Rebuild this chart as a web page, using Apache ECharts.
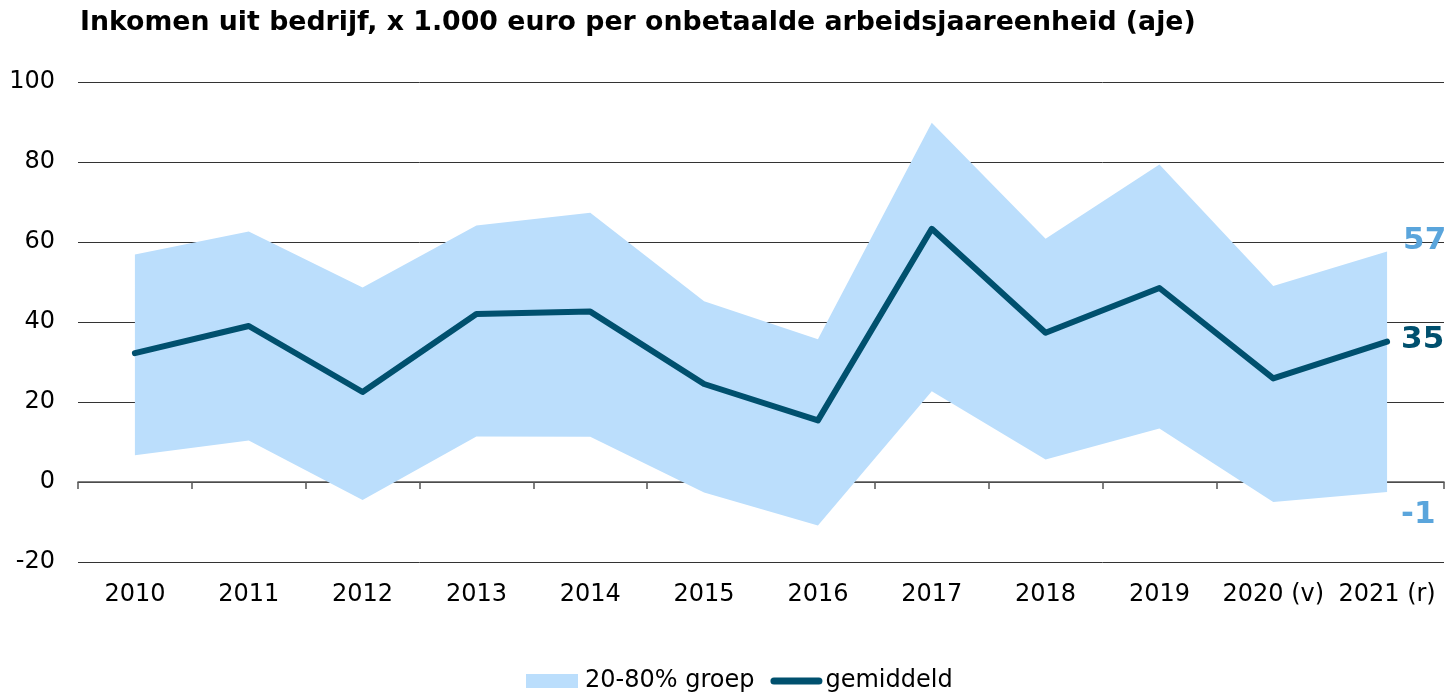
<!DOCTYPE html>
<html>
<head>
<meta charset="utf-8">
<script src="https://cdn.jsdelivr.net/npm/echarts@6/dist/echarts.min.js"></script>
<style>html,body{margin:0;padding:0;background:#fff;}#c{width:1447px;height:693px;}</style>
</head>
<body>
<div id="c"></div>
<script>
const categories = ['2010','2011','2012','2013','2014','2015','2016','2017','2018','2019','2020 (v)','2021 (r)'];
const gemiddeld = [32.2, 39, 22.5, 42, 42.6, 24.5, 15.4, 63.3, 37.3, 48.5, 25.9, 35.1];
const upper80 = [56.9, 62.6, 48.6, 64.1, 67.3, 45.2, 35.7, 89.8, 60.8, 79.4, 49, 57.6];
const lower20 = [6.7, 10.4, -4.5, 11.4, 11.3, -2.6, -10.9, 22.7, 5.6, 13.4, -5, -2.5];
const yTicks = [-20, 0, 20, 40, 60, 80, 100];
const endLabels = { upper: '57', mean: '35', lower: '-1' };
const title = 'Inkomen uit bedrijf, x 1.000 euro per onbetaalde arbeidsjaareenheid (aje)';

const bandSpan = upper80.map((v, i) => v - lower20[i]);
const FONT = '"DejaVu Sans", Verdana, sans-serif';
const DARK = '#00506e';
const LIGHT = '#bbdefc';
const LABEL_LIGHT = '#5aa5dc';

const chart = echarts.init(document.getElementById('c'), null, { renderer: 'canvas' });
chart.setOption({
  animation: false,
  backgroundColor: '#fff',
  textStyle: { fontFamily: FONT },
  title: {
    text: title,
    left: 75, top: 5,
    textStyle: { fontFamily: FONT, fontWeight: 'bold', fontSize: 26.75, color: '#000' }
  },
  grid: { left: 78, right: 3, top: 82, bottom: 131, containLabel: false },
  legend: {
    left: 521, top: 664,
    itemWidth: 52, itemHeight: 14, itemGap: 16,
    textStyle: { fontFamily: FONT, fontSize: 24, color: '#000', lineHeight: 24 },
    data: [
      { name: '20-80% groep', icon: 'rect', textStyle: { padding: [0, 0, 0, 2] } },
      { name: 'gemiddeld', icon: 'path://M3.5,0 L48.5,0 A3.5,3.5 0 0 1 48.5,7 L3.5,7 A3.5,3.5 0 0 1 3.5,0 Z', textStyle: { padding: [0, 0, 0, -2] } }
    ]
  },
  xAxis: [
    {
      type: 'category', data: categories, boundaryGap: true,
      axisLine: { onZero: true, lineStyle: { color: '#555', width: 1.5 } },
      axisTick: { show: true, length: 7, lineStyle: { color: '#555', width: 1.5 } },
      axisLabel: { show: false },
      splitLine: { show: false }
    },
    {
      type: 'category', data: categories, boundaryGap: true, position: 'bottom',
      axisLine: { show: false, onZero: false }, axisTick: { show: false },
      axisLabel: { interval: 0, fontFamily: FONT, fontSize: 24, color: '#000', margin: 21 },
      splitLine: { show: false }
    }
  ],
  yAxis: {
    type: 'value', min: yTicks[0], max: yTicks[yTicks.length - 1], interval: 20,
    axisLine: { show: false }, axisTick: { show: false },
    axisLabel: { fontFamily: FONT, fontSize: 24, color: '#000', margin: 23 },
    splitLine: { lineStyle: { color: '#333', width: 1 } }
  },
  series: [
    {
      name: 'lower', type: 'line', data: lower20, stack: 'band', stackStrategy: 'all',
      symbol: 'none', silent: true, lineStyle: { width: 0, opacity: 0 }, itemStyle: { color: LIGHT },
      endLabel: {
        show: true, formatter: endLabels.lower, distance: 14, offset: [0, 23],
        fontFamily: FONT, fontWeight: 'bold', fontSize: 31, color: LABEL_LIGHT
      },
      z: 1
    },
    {
      name: '20-80% groep', type: 'line', data: bandSpan, stack: 'band', stackStrategy: 'all',
      symbol: 'none', lineStyle: { width: 0, opacity: 0 }, itemStyle: { color: LIGHT },
      areaStyle: { color: LIGHT, opacity: 1 },
      endLabel: {
        show: true, formatter: endLabels.upper, distance: 16, offset: [0, -10.5],
        fontFamily: FONT, fontWeight: 'bold', fontSize: 31, color: LABEL_LIGHT
      },
      z: 1
    },
    {
      name: 'gemiddeld', type: 'line', data: gemiddeld,
      symbol: 'none', lineStyle: { width: 6, color: DARK, cap: 'round', join: 'round' }, itemStyle: { color: DARK },
      endLabel: {
        show: true, formatter: endLabels.mean, distance: 14, offset: [0, -2],
        fontFamily: FONT, fontWeight: 'bold', fontSize: 31, color: DARK
      },
      z: 3
    }
  ]
});
</script>
</body>
</html>
